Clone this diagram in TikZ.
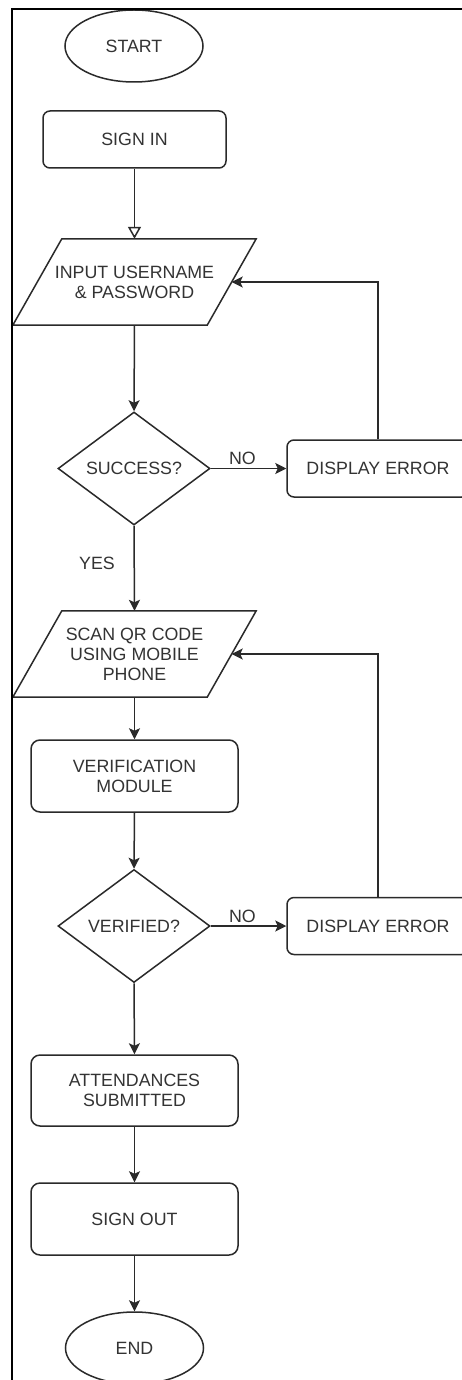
\documentclass[tikz,border=0pt]{standalone}
\usepackage{fontspec}
\setmainfont{Liberation Sans}
\usetikzlibrary{shapes.geometric,arrows.meta,calc}
\definecolor{ln}{HTML}{2A2A2A}
\definecolor{tx}{HTML}{333333}
\begin{document}
\begin{tikzpicture}[x=1pt,y=-1pt,
  font=\fontsize{17.8}{20}\selectfont,
  base/.style={draw=ln, line width=1.5pt, inner sep=0pt, text=tx, align=center},
  term/.style={base, ellipse, minimum width=138pt, minimum height=72pt},
  proc/.style={base, rectangle, rounded corners=7pt},
  io/.style={rectangle, minimum width=194pt, minimum height=86pt, inner sep=0pt, text=tx, align=center},
  iodraw/.style={draw=ln, line width=1.5pt, line join=miter},
  dec/.style={base, diamond, minimum width=152pt, minimum height=113pt},
  arr/.style={draw=ln, line width=1.5pt, -{Stealth[length=11pt,width=11pt,inset=2.5pt]}},
  openarr/.style={draw=ln, line width=1.5pt, -{Triangle[open,length=12pt,width=13pt]}},
  lbl/.style={text=tx, inner sep=1pt}]
\useasboundingbox (0,0) rectangle (462,1380);
\clip (0,0) rectangle (462,1380);
\fill[white] (0,0) rectangle (462,1380);

% nodes
\node[term] (start) at (134,46) {START};
\node[proc, minimum width=183pt, minimum height=57pt] (signin) at (134.5,139.5) {SIGN IN};
\node[io] (input) at (134.5,282) {INPUT USERNAME\\\& PASSWORD};
\draw[iodraw] ($(input.north west)+(24.5,0)$) -- ($(input.north east)+(24.5,0)$)
  -- ($(input.south east)+(-24.5,0)$) -- ($(input.south west)+(-24.5,0)$) -- cycle;
\node[dec] (succ) at (134,468.5) {SUCCESS?};
\node[proc, minimum width=182pt, minimum height=57pt] (err1) at (378,468.5) {DISPLAY ERROR};
\node[io] (scan) at (134.5,654) {SCAN QR CODE\\USING MOBILE\\PHONE};
\draw[iodraw] ($(scan.north west)+(24.5,0)$) -- ($(scan.north east)+(24.5,0)$)
  -- ($(scan.south east)+(-24.5,0)$) -- ($(scan.south west)+(-24.5,0)$) -- cycle;
\node[proc, minimum width=207pt, minimum height=72pt, rounded corners=9pt] (verif) at (134.5,776) {VERIFICATION\\MODULE};
\node[dec] (ver) at (134,926) {VERIFIED?};
\node[proc, minimum width=182pt, minimum height=57pt] (err2) at (378,926) {DISPLAY ERROR};
\node[proc, minimum width=207pt, minimum height=71pt, rounded corners=9pt] (att) at (134.5,1090.5) {ATTENDANCES\\SUBMITTED};
\node[proc, minimum width=207pt, minimum height=72pt, rounded corners=9pt] (out) at (134.5,1219) {SIGN OUT};
\node[term] (end) at (134.5,1348) {END};
\node[lbl] (yes) at (97,563) {YES};

% connectors
\draw[openarr] (signin.south) -- (input.north);
\draw[arr] (input.south) -- (succ.north);
\draw[arr] (succ.east) -- node[lbl, above=2pt, pos=0.42] (no1) {NO} (err1.west);
\draw[arr] (err1.north) |- (input.east);
\draw[arr] (succ.south) -- (scan.north);
\draw[arr] (scan.south) -- (verif.north);
\draw[arr] (verif.south) -- (ver.north);
\draw[arr] (ver.east) -- node[lbl, above=2pt, pos=0.42] (no2) {NO} (err2.west);
\draw[arr] (err2.north) |- (scan.east);
\draw[arr] (ver.south) -- (att.north);
\draw[arr] (att.south) -- (out.north);
\draw[arr] (out.south) -- (end.north);

% frame
\draw[line width=2.2pt, black] (12,9) rectangle (520,1440);
\end{tikzpicture}
\end{document}
